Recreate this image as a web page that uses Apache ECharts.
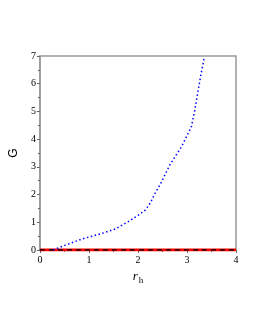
<!DOCTYPE html>
<html><head><meta charset="utf-8">
<script src="https://cdn.jsdelivr.net/npm/echarts@6/dist/echarts.min.js"></script>
<style>html,body{margin:0;padding:0;background:#fff}#c{width:255px;height:330px}</style>
</head><body><div id="c"></div>
<script>
const rValues = [0.27, 0.5, 0.86, 1.03, 1.27, 1.54, 1.80, 2.01, 2.15, 2.25, 2.35, 2.45, 2.55, 2.65, 2.89, 3.09, 3.16, 3.23, 3.29, 3.35];
const gValues = [0, 0.16, 0.4, 0.48, 0.6, 0.76, 1.02, 1.26, 1.44, 1.69, 2.05, 2.35, 2.71, 3.07, 3.73, 4.45, 5.05, 5.78, 6.38, 6.92];
const zeroR = [0, 4];
const zeroG = [0, 0];
const xTicks = [0, 1, 2, 3, 4];
const yTicks = [0, 1, 2, 3, 4, 5, 6, 7];

const chart = echarts.init(document.getElementById('c'), null, {renderer: 'canvas'});
const lblFont = {color: '#000', fontFamily: 'Liberation Serif', fontSize: 10};
chart.setOption({
  animation: false,
  grid: {left: 37, right: 19, top: 56, bottom: 80, show: true, borderColor: '#999', borderWidth: 1.5},
  xAxis: {
    type: 'value', min: xTicks[0], max: xTicks[xTicks.length-1], interval: 1,
    axisLine: {show: true, lineStyle: {color: '#999', width: 1.5}},
    axisTick: {show: true, inside: false, length: 3, lineStyle: {color: '#666'}},
    minorTick: {show: true, splitNumber: 2, length: 2, lineStyle: {color: '#666'}},
    splitLine: {show: false},
    axisLabel: Object.assign({margin: 5}, lblFont),
    name: '{r|r}{h|h}', nameLocation: 'middle', nameGap: 16,
    nameTextStyle: {rich: {
      r: {fontFamily: 'Liberation Serif', fontStyle: 'italic', fontSize: 13, color: '#000'},
      h: {fontFamily: 'Liberation Serif', fontSize: 9, color: '#000', padding: [8, 0, 0, 1]}
    }}
  },
  yAxis: {
    type: 'value', min: yTicks[0], max: yTicks[yTicks.length-1], interval: 1,
    axisLine: {show: true, lineStyle: {color: '#999', width: 1.5}},
    axisTick: {show: true, inside: false, length: 3, lineStyle: {color: '#666'}},
    minorTick: {show: true, splitNumber: 2, length: 2, lineStyle: {color: '#666'}},
    splitLine: {show: false},
    axisLabel: Object.assign({margin: 4}, lblFont),
    name: 'G', nameLocation: 'middle', nameGap: 13, nameRotate: 90,
    nameTextStyle: {fontFamily: 'Liberation Sans', fontSize: 12, color: '#000'}
  },
  series: [
    {type: 'line', data: zeroR.map((r, i) => [r, zeroG[i]]), symbol: 'none',
     lineStyle: {color: '#ff0000', width: 3}},
    {type: 'line', data: zeroR.map((r, i) => [r, zeroG[i]]), symbol: 'none',
     lineStyle: {color: '#000', width: 1.5, type: [5, 4]}},
    {type: 'line', data: rValues.map((r, i) => [r, gValues[i]]), symbol: 'none',
     lineStyle: {color: '#0000ff', width: 1.5, type: [1.5, 2.5]}}
  ]
});
</script></body></html>
